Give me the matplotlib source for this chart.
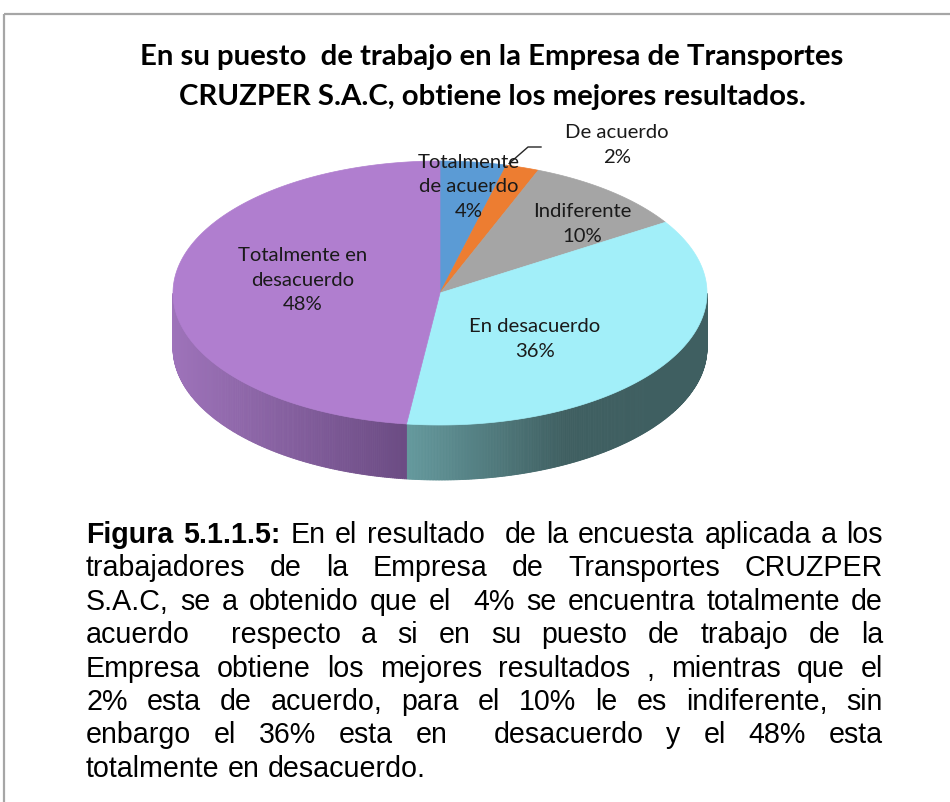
import numpy as np
import matplotlib

matplotlib.use("Agg")
import matplotlib.pyplot as plt  # noqa: E402
from matplotlib.patches import Polygon  # noqa: E402
from matplotlib.colors import to_rgb  # noqa: E402

# Data
categories = ["Totalmente de acuerdo", "De acuerdo", "Indiferente",
              "En desacuerdo", "Totalmente en desacuerdo"]
shares = [4, 2, 10, 36, 48]
label_texts = ["Totalmente\nde acuerdo", "De acuerdo", "Indiferente",
               "En desacuerdo", "Totalmente en\ndesacuerdo"]

title_lines = ["En su puesto  de trabajo en la Empresa de Transportes",
               "CRUZPER S.A.C, obtiene los mejores resultados."]

caption_bold = "Figura 5.1.1.5:"
caption_lines = [
    "En el resultado  de la encuesta aplicada a los",
    "trabajadores de la Empresa de Transportes CRUZPER",
    "S.A.C, se a obtenido que el  4% se encuentra totalmente de",
    "acuerdo  respecto a si en su puesto de trabajo de la",
    "Empresa obtiene los mejores resultados , mientras que el",
    "2% esta de acuerdo, para el 10% le es indiferente, sin",
    "enbargo el 36% esta en  desacuerdo y el 48% esta",
    "totalmente en desacuerdo.",
]

# Style
top_colors = ["#5b9bd5", "#ed7d31", "#a5a5a5", "#a2eff9", "#b07ecf"]
side_light = ["#4a80b0", "#c4672a", "#888888", "#659a9e", "#9e73ba"]
side_dark = ["#2f5577", "#8a4a1e", "#5e5e5e", "#3f5f61", "#6c4c84"]
side_span = [60, 60, 60, 160, 230]   # px over which side gradient runs
label_xy = [(469, 187), (617, 145), (582, 224), (535, 339), (303, 280)]

cx, cy = 440, 293
ra, rb = 267, 132
depth = 55

fig = plt.figure(figsize=(9.5, 8.02), dpi=100)
ax = fig.add_axes([0, 0, 1, 1])
ax.set_xlim(0, 950)
ax.set_ylim(802, 0)
ax.axis("off")

# frame of the chart area
ax.plot([4, 950], [14, 14], color="#a6a6a6", lw=1.6, solid_capstyle="butt")
ax.plot([4, 4], [14, 802], color="#a6a6a6", lw=1.6, solid_capstyle="butt")


def ell(t):
    return cx + ra * np.cos(t), cy - rb * np.sin(t)


# slice angles: start at top, go clockwise
frac = np.array(shares, dtype=float) / sum(shares)
ends = np.cumsum(frac)
starts = ends - frac
th_start = np.pi / 2 - 2 * np.pi * starts
th_end = np.pi / 2 - 2 * np.pi * ends

# sides (front half only)
for i in range(len(shares)):
    ts = np.linspace(th_end[i], th_start[i], 400)
    vis = np.sin(ts) <= 0
    if not vis.any():
        continue
    ts = ts[vis]
    ts = ts[::-1] if np.cos(ts[0]) > np.cos(ts[-1]) else ts
    xs, ys = ell(ts)
    x_left = xs.min()
    c_l = np.array(to_rgb(side_light[i]))
    c_d = np.array(to_rgb(side_dark[i]))
    for k in range(len(ts) - 1):
        kk = np.clip((0.5 * (xs[k] + xs[k + 1]) - x_left) / side_span[i], 0, 1)
        col = c_l + (c_d - c_l) * kk
        quad = [(xs[k], ys[k]), (xs[k + 1], ys[k + 1]),
                (xs[k + 1], ys[k + 1] + depth), (xs[k], ys[k] + depth)]
        ax.add_patch(Polygon(quad, closed=True, facecolor=col,
                             edgecolor=col, lw=0.6))

# top faces
for i in range(len(shares)):
    ts = np.linspace(th_start[i], th_end[i], 200)
    xs, ys = ell(ts)
    pts = [(cx, cy)] + list(zip(xs, ys))
    ax.add_patch(Polygon(pts, closed=True, facecolor=top_colors[i],
                         edgecolor=top_colors[i], lw=0.5))

# labels
lab_font = ["Lato", "DejaVu Sans"]
for i, (txt, v) in enumerate(zip(label_texts, shares)):
    x, y = label_xy[i]
    ax.text(x, y, f"{txt}\n{v}%", ha="center", va="center", fontsize=14.6,
            family=lab_font, color="#1a1a1a", linespacing=1.52)

# leader line for the small slice
mid = 0.5 * (th_start[1] + th_end[1]) + np.radians(3)
lx0, ly0 = ell(mid)
lx, ly = label_xy[1]
ax.plot([lx0, lx - 89, lx - 76], [ly0 - 2, ly + 2, ly + 2],
        color="#262626", lw=1.0)

# title
for j, line in enumerate(title_lines):
    ax.text(492, 57 + 40 * j, line, ha="center", va="center", fontsize=21.2,
            weight="bold", family=lab_font, color="black")

# caption, justified
cap_font = ["Liberation Sans", "DejaVu Sans"]
cap_size = 20.6
x0, x1 = 86, 883
base0, step = 543, 33.4
fig.canvas.draw()
renderer = fig.canvas.get_renderer()


def width_of(t):
    return t.get_window_extent(renderer).width


probe_a = ax.text(0, -50, "a a", fontsize=cap_size, family=cap_font)
probe_b = ax.text(0, -50, "aa", fontsize=cap_size, family=cap_font)
space_w = width_of(probe_a) - width_of(probe_b)
probe_a.remove()
probe_b.remove()

for n, line in enumerate(caption_lines):
    y = base0 + step * n
    words = [(w, False) for w in line.split(" ")]
    if n == 0:
        words = [(w, True) for w in caption_bold.split(" ")] + words
    items = []
    for w, bold in words:
        if w:
            t = ax.text(0, y, w, fontsize=cap_size, family=cap_font,
                        weight="bold" if bold else "normal", va="baseline",
                        ha="left", color="black")
            items.append((t, width_of(t)))
        else:
            items.append((None, 0.0))
    total = sum(w for _, w in items)
    if n == len(caption_lines) - 1:
        gap = space_w
    else:
        gap = (x1 - x0 - total) / (len(items) - 1)
    x = x0
    for t, w in items:
        if t is not None:
            t.set_x(x)
        x += w + gap

fig.savefig("out.png", dpi=100)
